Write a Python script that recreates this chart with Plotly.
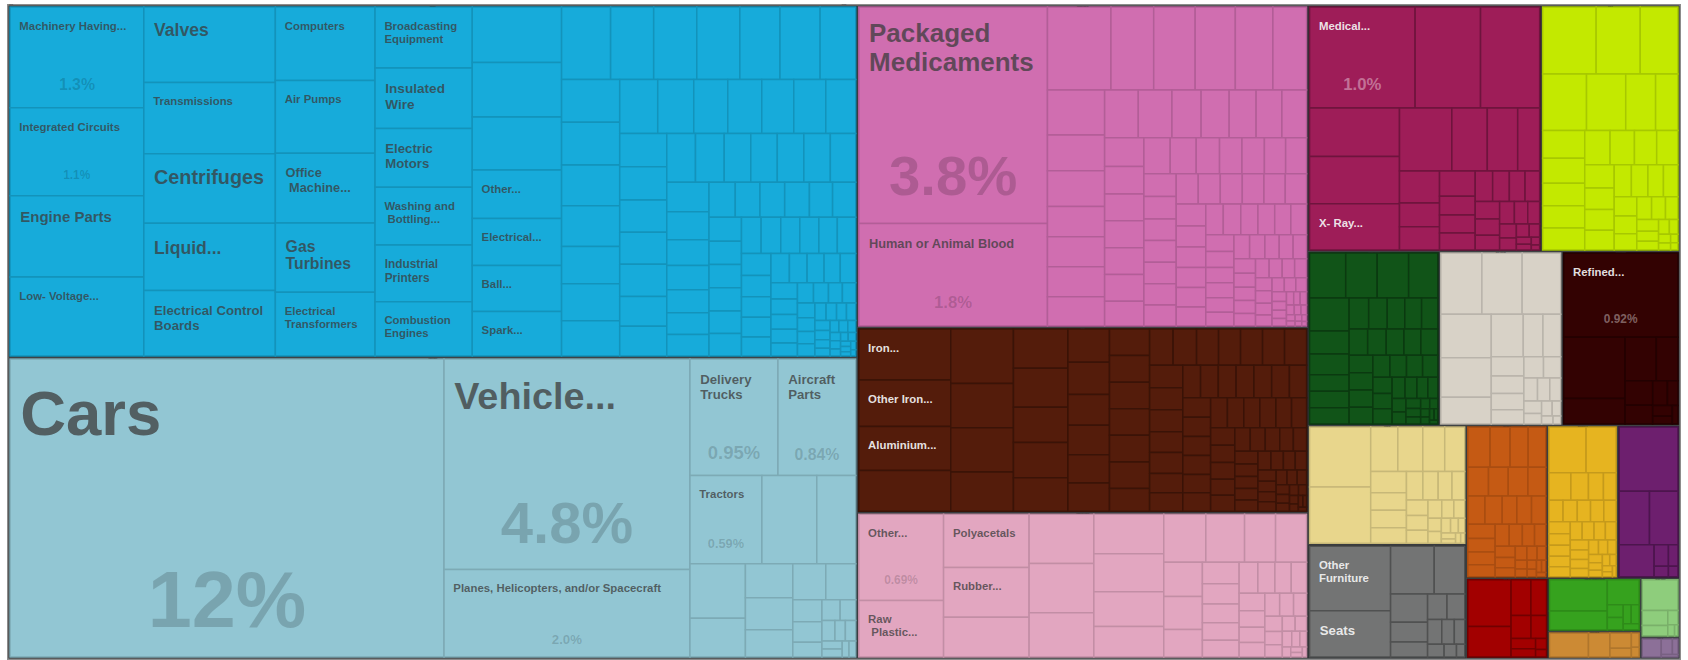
import plotly.graph_objects as go

# ------------------------------------------------------------------
# DATA  (shares of total imports, in %)
# ------------------------------------------------------------------
section_names = [
    "Machines", "Transportation", "Chemical Products", "Metals", "Plastics and Rubbers",
    "Instruments", "Textiles", "Vegetable Products", "Stone And Glass", "Mineral Products",
    "Foodstuffs", "Miscellaneous", "Paper Goods", "Precious Metals", "Footwear and Headwear",
    "Animal Hides", "Animal and Vegetable Bi-Products", "Arts and Antiques", "Wood Products", "Weapons",
]
section_colors = [
    "#17abda", "#92c6d3", "#d06eb0", "#541c0b", "#e2a6c0",
    "#9e1d58", "#c3e900", "#115418", "#d8d2c7", "#330202",
    "#e8d68c", "#737474", "#c55a14", "#e6b420", "#6d1f6e",
    "#a20000", "#36a21e", "#8ecd7c", "#cc8a34", "#8c7098",
]
dark_sections = {"Metals", "Instruments", "Vegetable Products", "Mineral Products",
                 "Miscellaneous", "Footwear and Headwear", "Animal Hides"}

machines_products = [
    "Machinery Having Individual Functions", "Integrated Circuits", "Engine Parts",
    "Low-voltage Protection Equipment", "Valves", "Transmissions", "Centrifuges", "Liquid Pumps",
    "Electrical Control Boards", "Computers", "Air Pumps", "Office Machine Parts", "Gas Turbines",
    "Electrical Transformers", "Broadcasting Equipment", "Insulated Wire", "Electric Motors",
    "Washing and Bottling Machines", "Industrial Printers", "Combustion Engines",
    "Other Heating Machinery", "Electrical Lighting Equipment", "Ball Bearings", "Spark-Ignition Engines",
]
machines_shares = [1.25, 1.09, 1.01, 0.98, 0.92, 0.87, 0.845, 0.82, 0.80, 0.68, 0.67, 0.645, 0.64,
                   0.59, 0.55, 0.545, 0.53, 0.52, 0.51, 0.49, 0.40, 0.39, 0.38, 0.37]
machines_other = [0.46, 0.45, 0.44, 0.33, 0.29, 0.29, 0.29, 0.27, 0.27, 0.24, 0.23, 0.23, 0.22, 0.22,
                  0.20, 0.20, 0.19, 0.19, 0.18, 0.17, 0.17, 0.16, 0.16, 0.15, 0.145, 0.145, 0.14, 0.14,
                  0.14, 0.13, 0.13, 0.13, 0.13, 0.12, 0.12, 0.12, 0.12, 0.115, 0.115, 0.11, 0.10, 0.095,
                  0.09, 0.085, 0.085, 0.085, 0.08, 0.08, 0.08, 0.075, 0.075, 0.072, 0.07, 0.07, 0.07,
                  0.068, 0.068, 0.066, 0.066, 0.064, 0.064, 0.062, 0.062, 0.06, 0.058, 0.056, 0.054,
                  0.052, 0.05, 0.048, 0.046, 0.044, 0.042, 0.04, 0.038, 0.036, 0.034, 0.032, 0.03,
                  0.028, 0.026, 0.025, 0.024, 0.022, 0.02, 0.02, 0.018, 0.017, 0.016, 0.015, 0.014,
                  0.013, 0.012, 0.011, 0.01, 0.01, 0.009, 0.008, 0.008, 0.007, 0.006, 0.006, 0.005,
                  0.005, 0.004, 0.004, 0.003]

transport_products = ["Cars", "Vehicle Parts", "Planes, Helicopters, and/or Spacecraft",
                      "Delivery Trucks", "Aircraft Parts", "Tractors"]
transport_shares = [12.0, 4.8, 2.0, 0.95, 0.84, 0.59]
transport_other = [0.45, 0.32, 0.28, 0.20, 0.15, 0.14, 0.12, 0.11, 0.10, 0.06, 0.055, 0.04, 0.035,
                   0.03, 0.025, 0.02, 0.02, 0.015, 0.015, 0.01, 0.01]

chemical_products = ["Packaged Medicaments", "Human or Animal Blood"]
chemical_shares = [3.8, 1.8]
chemical_other = [0.49, 0.33, 0.32, 0.31, 0.29, 0.26, 0.24, 0.19, 0.19, 0.16, 0.16, 0.16, 0.155,
                  0.15, 0.15, 0.13, 0.125, 0.12, 0.115, 0.11, 0.105, 0.10, 0.098, 0.098, 0.098, 0.098,
                  0.09, 0.088, 0.087, 0.078, 0.075, 0.075, 0.071, 0.07, 0.068, 0.068, 0.065, 0.065,
                  0.065, 0.064, 0.063, 0.062, 0.062, 0.062, 0.061, 0.06, 0.06, 0.06, 0.058, 0.056,
                  0.055, 0.054, 0.052, 0.05, 0.05, 0.049, 0.048, 0.046, 0.045, 0.044, 0.042, 0.04,
                  0.039, 0.038, 0.036, 0.035, 0.034, 0.032, 0.031, 0.03, 0.029, 0.028, 0.027, 0.026,
                  0.025, 0.024, 0.023, 0.022, 0.021, 0.02, 0.019, 0.018, 0.017, 0.016, 0.015, 0.014,
                  0.013, 0.012, 0.011, 0.01, 0.009, 0.008, 0.008, 0.007, 0.006, 0.005, 0.005, 0.004,
                  0.004, 0.003, 0.003, 0.002]

metals_products = ["Iron Structures", "Other Iron Products", "Aluminium Plating"]
metals_shares = [0.44, 0.40, 0.38]
metals_other = [0.35, 0.32, 0.26, 0.26, 0.23, 0.20, 0.20, 0.18, 0.18, 0.17, 0.13, 0.125, 0.12, 0.115,
                0.11, 0.11, 0.10, 0.10, 0.10, 0.10, 0.10, 0.10, 0.085, 0.08, 0.08, 0.075, 0.075, 0.075,
                0.075, 0.075, 0.07, 0.068, 0.068, 0.065, 0.065, 0.06, 0.057, 0.054, 0.054, 0.054,
                0.054, 0.054, 0.054, 0.052, 0.051, 0.05, 0.05, 0.049, 0.048, 0.048, 0.047, 0.046,
                0.045, 0.045, 0.044, 0.042, 0.04, 0.039, 0.038, 0.036, 0.036, 0.034, 0.033, 0.032,
                0.03, 0.029, 0.028, 0.027, 0.026, 0.025, 0.024, 0.023, 0.022, 0.021, 0.02, 0.019,
                0.018, 0.017, 0.016, 0.015, 0.014, 0.013, 0.012, 0.011, 0.01, 0.009, 0.008, 0.007,
                0.006, 0.005, 0.004, 0.003]

plastics_products = ["Other Plastic Products", "Raw Plastic Sheeting", "Polyacetals", "Rubber Tires"]
plastics_shares = [0.69, 0.45, 0.43, 0.40]
plastics_other = [0.32, 0.30, 0.30, 0.27, 0.26, 0.25, 0.23, 0.20, 0.19, 0.175, 0.14, 0.14, 0.125,
                  0.12, 0.10, 0.075, 0.07, 0.065, 0.06, 0.058, 0.055, 0.05, 0.048, 0.045, 0.042, 0.04,
                  0.037, 0.035, 0.032, 0.03, 0.028, 0.025, 0.022, 0.02, 0.018, 0.016, 0.014, 0.012,
                  0.01, 0.008, 0.006, 0.005, 0.004]

instruments_products = ["Medical Instruments", "X-Ray Equipment"]
instruments_shares = [1.0, 0.39]
instruments_other = [0.62, 0.56, 0.41, 0.40, 0.31, 0.21, 0.18, 0.13, 0.12, 0.09, 0.087, 0.085, 0.063,
                     0.06, 0.057, 0.05, 0.048, 0.045, 0.042, 0.04, 0.037, 0.034, 0.031, 0.028, 0.025,
                     0.022, 0.019, 0.016, 0.013, 0.01, 0.008, 0.006, 0.004]

textiles_other = [0.34, 0.28, 0.24, 0.235, 0.21, 0.16, 0.12, 0.11, 0.10, 0.09, 0.088, 0.088, 0.082,
                  0.079, 0.072, 0.069, 0.065, 0.06, 0.058, 0.055, 0.052, 0.05, 0.047, 0.044, 0.041,
                  0.038, 0.035, 0.032, 0.03, 0.027, 0.024, 0.021, 0.018, 0.015, 0.012, 0.01, 0.008,
                  0.006, 0.005]
vegetable_other = [0.155, 0.135, 0.135, 0.125, 0.125, 0.086, 0.079, 0.062, 0.062, 0.062, 0.058, 0.055,
                   0.052, 0.05, 0.048, 0.046, 0.046, 0.044, 0.042, 0.042, 0.04, 0.039, 0.039, 0.038,
                   0.036, 0.035, 0.034, 0.032, 0.03, 0.028, 0.028, 0.026, 0.024, 0.022, 0.02, 0.018,
                   0.016, 0.014, 0.012, 0.01, 0.009, 0.008, 0.007, 0.006, 0.005, 0.004, 0.003]
stone_other = [0.24, 0.235, 0.225, 0.21, 0.19, 0.13, 0.13, 0.08, 0.072, 0.06, 0.055, 0.05, 0.045,
               0.04, 0.035, 0.03, 0.027, 0.024, 0.021, 0.018, 0.015, 0.012, 0.009, 0.006]
mineral_products = ["Refined Petroleum"]
mineral_shares = [0.92]
mineral_other = [0.36, 0.15, 0.13, 0.09, 0.065, 0.05, 0.035, 0.025, 0.02, 0.015, 0.01]
foodstuffs_other = [0.35, 0.33, 0.115, 0.106, 0.093, 0.085, 0.073, 0.06, 0.06, 0.053, 0.045, 0.042,
                    0.038, 0.035, 0.032, 0.03, 0.027, 0.024, 0.021, 0.019, 0.017, 0.015, 0.013, 0.011,
                    0.009, 0.008, 0.006, 0.005, 0.004]
misc_products = ["Other Furniture", "Seats"]
misc_shares = [0.50, 0.36]
misc_other = [0.20, 0.14, 0.10, 0.07, 0.053, 0.047, 0.043, 0.034, 0.03, 0.025, 0.02, 0.015, 0.01]
paper_other = [0.087, 0.078, 0.07, 0.069, 0.058, 0.055, 0.055, 0.05, 0.047, 0.047, 0.04, 0.04, 0.039,
               0.038, 0.036, 0.034, 0.032, 0.03, 0.028, 0.026, 0.024, 0.022, 0.02, 0.018, 0.016,
               0.014, 0.012, 0.01, 0.009, 0.008, 0.007, 0.006, 0.005, 0.004]
precious_other = [0.166, 0.134, 0.059, 0.047, 0.04, 0.034, 0.03, 0.03, 0.028, 0.028, 0.026, 0.025,
                  0.024, 0.023, 0.022, 0.021, 0.021, 0.021, 0.02, 0.019, 0.018, 0.017, 0.016, 0.015,
                  0.014, 0.013, 0.012, 0.011, 0.01, 0.009, 0.008, 0.007, 0.006, 0.005, 0.004]
footwear_other = [0.37, 0.16, 0.15, 0.11, 0.03, 0.02, 0.015, 0.01]
hides_other = [0.20, 0.13, 0.07, 0.055, 0.045, 0.035, 0.025, 0.02, 0.012, 0.008]
biproducts_other = [0.18, 0.11, 0.08, 0.02, 0.02, 0.015, 0.015, 0.01]
arts_other = [0.115, 0.04, 0.028, 0.015, 0.008, 0.004]
wood_other = [0.10, 0.055, 0.035, 0.02, 0.012, 0.008]
weapons_other = [0.04, 0.02, 0.01, 0.005]

section_data = {
    "Machines": (machines_products, machines_shares, machines_other),
    "Transportation": (transport_products, transport_shares, transport_other),
    "Chemical Products": (chemical_products, chemical_shares, chemical_other),
    "Metals": (metals_products, metals_shares, metals_other),
    "Plastics and Rubbers": (plastics_products, plastics_shares, plastics_other),
    "Instruments": (instruments_products, instruments_shares, instruments_other),
    "Textiles": ([], [], textiles_other),
    "Vegetable Products": ([], [], vegetable_other),
    "Stone And Glass": ([], [], stone_other),
    "Mineral Products": (mineral_products, mineral_shares, mineral_other),
    "Foodstuffs": ([], [], foodstuffs_other),
    "Miscellaneous": (misc_products, misc_shares, misc_other),
    "Paper Goods": ([], [], paper_other),
    "Precious Metals": ([], [], precious_other),
    "Footwear and Headwear": ([], [], footwear_other),
    "Animal Hides": ([], [], hides_other),
    "Animal and Vegetable Bi-Products": ([], [], biproducts_other),
    "Arts and Antiques": ([], [], arts_other),
    "Wood Products": ([], [], wood_other),
    "Weapons": ([], [], weapons_other),
}

# text shown inside the boxes (as in the picture)
shown_label = {
    "Machinery Having Individual Functions": "Machinery Having...",
    "Integrated Circuits": "Integrated Circuits",
    "Engine Parts": "Engine Parts",
    "Low-voltage Protection Equipment": "Low- Voltage...",
    "Valves": "Valves",
    "Transmissions": "Transmissions",
    "Centrifuges": "Centrifuges",
    "Liquid Pumps": "Liquid...",
    "Electrical Control Boards": "Electrical Control\nBoards",
    "Computers": "Computers",
    "Air Pumps": "Air Pumps",
    "Office Machine Parts": "Office\n Machine...",
    "Gas Turbines": "Gas\nTurbines",
    "Electrical Transformers": "Electrical\nTransformers",
    "Broadcasting Equipment": "Broadcasting\nEquipment",
    "Insulated Wire": "Insulated\nWire",
    "Electric Motors": "Electric\nMotors",
    "Washing and Bottling Machines": "Washing and\n Bottling...",
    "Industrial Printers": "Industrial\nPrinters",
    "Combustion Engines": "Combustion\nEngines",
    "Other Heating Machinery": "Other...",
    "Electrical Lighting Equipment": "Electrical...",
    "Ball Bearings": "Ball...",
    "Spark-Ignition Engines": "Spark...",
    "Cars": "Cars",
    "Vehicle Parts": "Vehicle...",
    "Planes, Helicopters, and/or Spacecraft": "Planes, Helicopters, and/or Spacecraft",
    "Delivery Trucks": "Delivery\nTrucks",
    "Aircraft Parts": "Aircraft\nParts",
    "Tractors": "Tractors",
    "Packaged Medicaments": "Packaged\nMedicaments",
    "Human or Animal Blood": "Human or Animal Blood",
    "Iron Structures": "Iron...",
    "Other Iron Products": "Other Iron...",
    "Aluminium Plating": "Aluminium...",
    "Other Plastic Products": "Other...",
    "Raw Plastic Sheeting": "Raw\n Plastic...",
    "Polyacetals": "Polyacetals",
    "Rubber Tires": "Rubber...",
    "Medical Instruments": "Medical...",
    "X-Ray Equipment": "X- Ray...",
    "Refined Petroleum": "Refined...",
    "Other Furniture": "Other\nFurniture",
    "Seats": "Seats",
}
shown_share = {
    "Machinery Having Individual Functions": "1.3%",
    "Integrated Circuits": "1.1%",
    "Cars": "12%",
    "Vehicle Parts": "4.8%",
    "Planes, Helicopters, and/or Spacecraft": "2.0%",
    "Delivery Trucks": "0.95%",
    "Aircraft Parts": "0.84%",
    "Tractors": "0.59%",
    "Packaged Medicaments": "3.8%",
    "Human or Animal Blood": "1.8%",
    "Other Plastic Products": "0.69%",
    "Medical Instruments": "1.0%",
    "Refined Petroleum": "0.92%",
}

# ------------------------------------------------------------------
# STYLE
# ------------------------------------------------------------------
FONT = "Liberation Sans, Arial, sans-serif"
FIT = 0.88              # the original uses a condensed face; shrink a little to match widths
ASC, CAP = 0.905, 0.716  # Liberation Sans metrics
TEXTPAD = 3
label_px = {
    "Machinery Having Individual Functions": 13, "Integrated Circuits": 13, "Engine Parts": 17,
    "Low-voltage Protection Equipment": 13, "Valves": 20, "Transmissions": 13, "Centrifuges": 22.5,
    "Liquid Pumps": 20, "Electrical Control Boards": 15, "Computers": 13, "Air Pumps": 13,
    "Office Machine Parts": 14.5, "Gas Turbines": 18, "Electrical Transformers": 13,
    "Broadcasting Equipment": 13, "Insulated Wire": 15.5, "Electric Motors": 15,
    "Washing and Bottling Machines": 13, "Industrial Printers": 13.5, "Combustion Engines": 13,
    "Other Heating Machinery": 13, "Electrical Lighting Equipment": 13, "Ball Bearings": 13,
    "Spark-Ignition Engines": 13, "Cars": 72, "Vehicle Parts": 43,
    "Planes, Helicopters, and/or Spacecraft": 13, "Delivery Trucks": 15, "Aircraft Parts": 15,
    "Tractors": 13, "Packaged Medicaments": 29.5, "Human or Animal Blood": 14.5,
    "Iron Structures": 13, "Other Iron Products": 13, "Aluminium Plating": 13,
    "Other Plastic Products": 13, "Raw Plastic Sheeting": 13, "Polyacetals": 13, "Rubber Tires": 13,
    "Medical Instruments": 13, "X-Ray Equipment": 13, "Refined Petroleum": 13,
    "Other Furniture": 13, "Seats": 15,
}
# distance from box top to the capital line of the label (px)
label_top_px = {"Cars": 26.7, "Vehicle Parts": 23, "Packaged Medicaments": 16.7, "Valves": 15.7,
                "Centrifuges": 16.4, "Liquid Pumps": 17.7, "Gas Turbines": 17.7, "Engine Parts": 16.4}
share_px = {
    "Machinery Having Individual Functions": 18, "Integrated Circuits": 13.5, "Cars": 90,
    "Vehicle Parts": 66, "Planes, Helicopters, and/or Spacecraft": 15, "Delivery Trucks": 21,
    "Aircraft Parts": 18, "Tractors": 14.5, "Packaged Medicaments": 64, "Human or Animal Blood": 19,
    "Other Plastic Products": 13.5, "Medical Instruments": 19, "Refined Petroleum": 13.5,
}
# how far below the box centre the share figure sits (px)
share_offset_px = {
    "Machinery Having Individual Functions": 27, "Integrated Circuits": 23.5, "Cars": 90,
    "Vehicle Parts": 58, "Planes, Helicopters, and/or Spacecraft": 26, "Delivery Trucks": 35,
    "Aircraft Parts": 36.5, "Tractors": 24, "Packaged Medicaments": 60, "Human or Animal Blood": 27.5,
    "Other Plastic Products": 22.5, "Medical Instruments": 27, "Refined Petroleum": 23.5,
}
LINE_K = 0.86   # base font / label font -> line advance of 1.3*0.86 = 1.12 label heights
NB = "\u00a0"


def shade(hex_color, f):
    h = hex_color.lstrip("#")
    r, g, b = (int(h[i:i + 2], 16) for i in (0, 2, 4))
    return "rgb(%d,%d,%d)" % (r * f, g * f, b * f)


def label_markup(name):
    lab = shown_label.get(name, "")
    if not lab:
        return ""
    size = label_px[name] * FIT
    top = label_top_px.get(name, 15)
    spacer = max(2.0, (top - TEXTPAD - (1.3 * LINE_K - CAP) * size) / ASC)
    lines = []
    for s in lab.split("\n"):
        if s.startswith(" "):
            s = NB + s[1:]
        lines.append('<span style="font-size:%.1fpx">%s%s</span>'
                     '<span style="font-size:%.1fpx;font-weight:bold">%s</span>'
                     % (min(size, 13), NB, NB, size, s))
    return ('<span style="font-size:%.1fpx">%s</span><br>' % (spacer, NB)) + "<br>".join(lines)


def share_markup(name):
    sh = shown_share.get(name, "")
    if not sh:
        return ""
    f = share_px[name] * FIT
    spacer = max(1.0, (share_offset_px[name] - 0.186 * f) / 0.4525)
    return '<span style="font-size:%.1fpx">%s</span><br><b>%s</b>' % (spacer, NB, sh)


ids, labels, parents, values = ["root"], ["Imports"], [""], [0]
fill, line_col, line_w = ["#8c8c8c"], ["rgba(0,0,0,0)"], [0]
txt_lab, txt_share = [""], [""]
size_lab, size_share = [10], [10]
col_lab, col_share = ["#333"], ["#333"]

for sec, color in zip(section_names, section_colors):
    dark = sec in dark_sections
    ids.append(sec); labels.append(sec); parents.append("root"); values.append(0)
    fill.append("#262a2d"); line_col.append("rgba(0,0,0,0)"); line_w.append(0)
    txt_lab.append(""); txt_share.append(""); size_lab.append(10); size_share.append(10)
    col_lab.append("#333"); col_share.append("#333")
    named, shares, others = section_data[sec]
    items = list(zip(named, shares)) + [("%s product %d" % (sec, i + 1), v) for i, v in enumerate(others)]
    for name, v in items:
        ids.append(sec + "/" + name); labels.append(name); parents.append(sec); values.append(v)
        fill.append(color)
        line_col.append(shade(color, 0.86 if not dark else 0.7)); line_w.append(1.5)
        txt_lab.append(label_markup(name))
        size_lab.append(LINE_K * FIT * label_px.get(name, 12.5))
        col_lab.append("rgba(245,245,245,0.92)" if dark else "rgba(60,60,60,0.75)")
        txt_share.append(share_markup(name))
        size_share.append(FIT * share_px.get(name, 10))
        col_share.append("rgba(255,255,255,0.38)" if dark else "rgba(0,0,0,0.17)")

common = dict(
    ids=ids, labels=labels, parents=parents, values=values,
    branchvalues="remainder", sort=True,
    tiling=dict(packing="squarify", squarifyratio=1.618, pad=0),
    pathbar=dict(visible=False),
    textinfo="text",
)

fig = go.Figure()
fig.add_trace(go.Treemap(
    **common,
    text=txt_lab,
    textposition="top left",
    textfont=dict(family=FONT, size=size_lab, color=col_lab),
    marker=dict(colors=fill, line=dict(color=line_col, width=line_w),
                pad=dict(t=1.5, l=1.5, r=1.5, b=1.5)),
    hovertemplate="%{label}<extra></extra>",
))
fig.add_trace(go.Treemap(
    **common,
    text=txt_share,
    textposition="middle center",
    textfont=dict(family=FONT, size=size_share, color=col_share),
    marker=dict(colors=["rgba(0,0,0,0)"] * len(ids), line=dict(width=0),
                pad=dict(t=1.5, l=1.5, r=1.5, b=1.5)),
    hoverinfo="skip",
))
fig.update_layout(
    width=1688, height=660,
    margin=dict(l=7, r=7, t=4, b=0),
    paper_bgcolor="white",
    showlegend=False,
)
fig.write_html("out.html", config={"displayModeBar": False},
               post_script="document.body.style.margin='0px';")
